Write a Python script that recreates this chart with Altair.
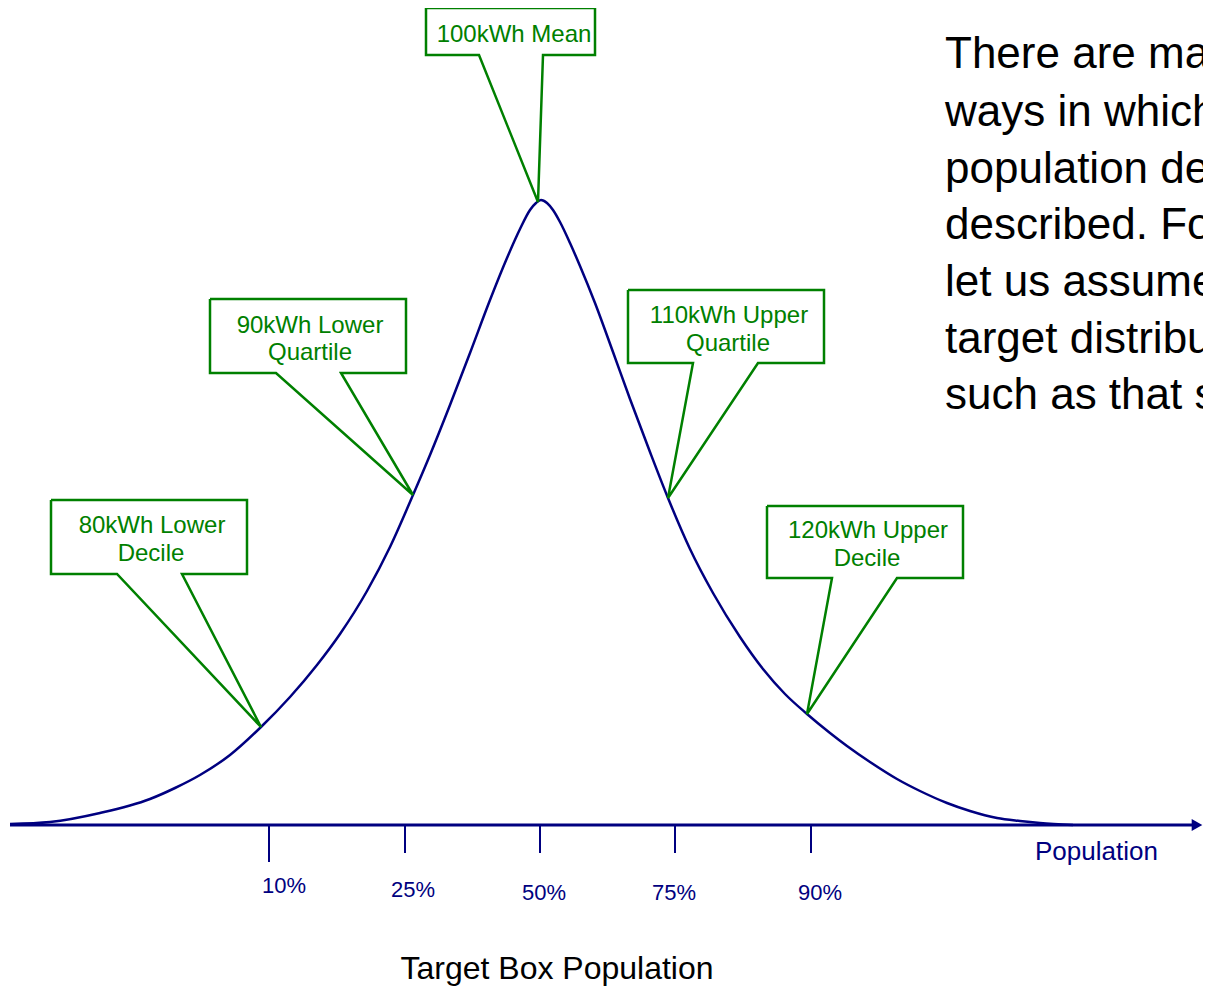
import altair as alt
import pandas as pd

NAVY = "#000080"
GREEN = "#008000"
FONT = "Liberation Sans, Arial, sans-serif"

# ---- bell curve (page pixel coords) ----
curve_x = [10, 50, 100, 150, 175, 200, 230, 261, 290, 317, 340, 367, 390, 413, 430, 450, 470, 490,
           507, 520, 530, 536, 541,
           547, 553, 560, 570, 580, 595, 613, 630, 650, 668, 690, 713, 740, 763, 785, 807,
           830, 847, 870, 897, 920, 947, 970, 997, 1020, 1040, 1073]
curve_y = [824, 822, 813, 799, 788, 775, 755, 727, 697, 665, 634, 591, 547, 495, 455, 405, 353, 300,
           258, 229, 210, 203, 200,
           203, 210, 222, 243, 266, 303, 352, 399, 452, 498, 549, 593, 637, 669, 694, 714,
           733, 746, 762, 779, 791, 803, 811, 818, 821, 823, 825]

# ---- horizontal axis ----
axis_x = [10]
axis_x2 = [1196]
axis_y = [825]
arrow_x = [1197]
arrow_y = [825]

# ---- tick marks and labels ----
tick_x = [269, 405, 540, 675, 811]
tick_y_end = [862, 853, 853, 853, 853]
tick_labels = ["10%", "25%", "50%", "75%", "90%"]
tick_label_x = [284, 413, 544, 674, 820]
tick_label_y = [893, 897, 900, 900, 900]

# ---- callouts ----
box_left = [426, 210, 51, 628, 767]
box_right = [595, 406, 247, 824, 963]
box_top = [8, 299, 500, 290, 506]
box_bottom = [55, 373, 574, 363, 578]
ptr_left = [479, 276, 117, 693, 832]
ptr_right = [543, 341, 182, 758, 897]
tip_x = [538, 413, 261, 668, 807]
tip_y = [202, 495, 727, 498, 714]

callout_text = ["100kWh Mean", "90kWh Lower", "Quartile", "80kWh Lower", "Decile",
                "110kWh Upper", "Quartile", "120kWh Upper", "Decile"]
callout_text_x = [514, 310, 310, 152, 151, 729, 728, 868, 867]
callout_text_y = [42, 333, 360, 533, 561, 323, 351, 538, 566]

# ---- other texts ----
pop_label = ["Population"]
pop_x = [1035]
pop_y = [860]
title_text = ["Target Box Population"]
title_x = [557]
title_y = [979]
body_lines = ["There are many", "ways in which a", "population density can be",
              "described.  For example,", "let us assume a", "target distribution",
              "such as that shown"]
body_x = 945
body_y = [68, 126, 183, 239, 296, 353, 409]

# ---- tables ----
curve_df = pd.DataFrame({"x": curve_x, "y": curve_y})
axis_df = pd.DataFrame({"x": axis_x, "x2": axis_x2, "y": axis_y})
arrow_df = pd.DataFrame({"x": arrow_x, "y": arrow_y})
tick_df = pd.DataFrame({"x": tick_x, "y": [825] * len(tick_x), "y2": tick_y_end})

rows = []
for i in range(len(box_left)):
    pts = [(box_left[i], box_top[i]), (box_right[i], box_top[i]), (box_right[i], box_bottom[i]),
           (ptr_right[i], box_bottom[i]), (tip_x[i], tip_y[i]), (ptr_left[i], box_bottom[i]),
           (box_left[i], box_bottom[i]), (box_left[i], box_top[i])]
    for k, (px, py) in enumerate(pts):
        rows.append({"id": i, "k": k, "x": px, "y": py})
callout_df = pd.DataFrame(rows)

center_text = pd.DataFrame({
    "x": callout_text_x + tick_label_x + title_x,
    "y": callout_text_y + tick_label_y + title_y,
    "text": callout_text + tick_labels + title_text,
    "size": [24] * len(callout_text) + [22] * len(tick_labels) + [32],
    "color": [GREEN] * len(callout_text) + [NAVY] * len(tick_labels) + ["#000000"],
})
left_text = pd.DataFrame({
    "x": pop_x + [body_x] * len(body_lines),
    "y": pop_y + body_y,
    "text": pop_label + body_lines,
    "size": [26] + [44] * len(body_lines),
    "color": [NAVY] + ["#000000"] * len(body_lines),
})

xs = alt.Scale(domain=[8, 1203], nice=False, zero=False)
ys = alt.Scale(domain=[8, 988], nice=False, zero=False, reverse=True)
X = alt.X("x:Q", scale=xs, axis=None)
Y = alt.Y("y:Q", scale=ys, axis=None)

curve = alt.Chart(curve_df).mark_line(color=NAVY, strokeWidth=2.5, interpolate="monotone").encode(x=X, y=Y)
axis_line = alt.Chart(axis_df).mark_rule(color=NAVY, strokeWidth=3).encode(x=X, x2="x2:Q", y=Y)
arrow = alt.Chart(arrow_df).mark_point(shape="triangle-right", filled=True, size=150,
                                       color=NAVY, opacity=1).encode(x=X, y=Y)
ticks = alt.Chart(tick_df).mark_rule(color=NAVY, strokeWidth=2).encode(x=X, y=Y, y2="y2:Q")
callouts = alt.Chart(callout_df).mark_line(color=GREEN, strokeWidth=2.5, strokeJoin="miter").encode(
    x=X, y=Y, detail="id:N", order="k:Q")
ctext = alt.Chart(center_text).mark_text(align="center", baseline="alphabetic", font=FONT).encode(
    x=X, y=Y, text="text:N",
    size=alt.Size("size:Q", scale=None, legend=None),
    color=alt.Color("color:N", scale=None, legend=None))
ltext = alt.Chart(left_text).mark_text(align="left", baseline="alphabetic", font=FONT, clip=True).encode(
    x=X, y=Y, text="text:N",
    size=alt.Size("size:Q", scale=None, legend=None),
    color=alt.Color("color:N", scale=None, legend=None))

chart = alt.layer(curve, axis_line, arrow, ticks, callouts, ctext, ltext).properties(
    width=1195, height=980, padding=0, autosize=alt.AutoSizeParams(type="none")
).configure_view(strokeWidth=0)

chart.save("out.html", embed_options={"renderer": "svg", "actions": False})
